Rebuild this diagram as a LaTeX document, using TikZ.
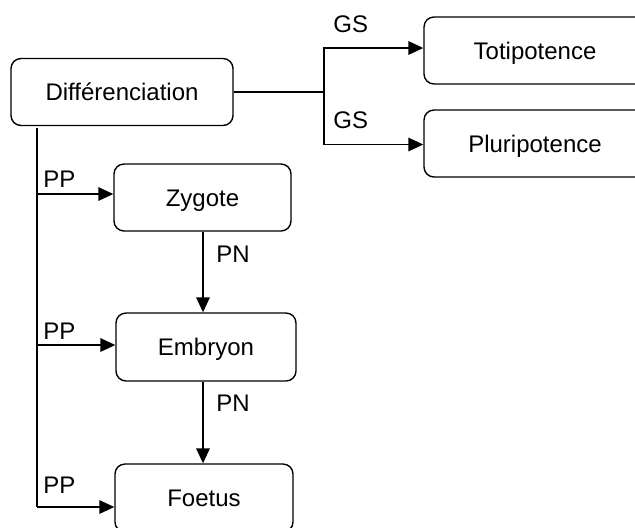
\documentclass[tikz,border=0pt]{standalone}
\usepackage{fontspec}
\setmainfont{Liberation Sans}
\usetikzlibrary{arrows.meta}

\begin{document}
\begin{tikzpicture}[
  x=0.5pt, y=-0.5pt,
  font=\fontsize{12}{14.4}\selectfont,
  stagebox/.style={draw, line width=0.7pt, rounded corners=5pt,
    minimum height=33.5pt, inner sep=0pt, text height=8.6pt, text depth=0pt},
  link/.style={line width=0.7pt},
  arrowlink/.style={link, -{Triangle[length=7.5pt, width=6.8pt]}},
  tag/.style={inner sep=0pt, anchor=base west}
]
  \useasboundingbox (0,0) rectangle (635,527);
  \clip (0,0) rectangle (635,527);

  % stages
  \node[stagebox, minimum width=111pt] (diff)  at (122,92)      {Différenciation};
  \node[stagebox, minimum width=111pt] (toti)  at (535,50.5)    {Totipotence};
  \node[stagebox, minimum width=111pt] (pluri) at (535,143.5)   {Pluripotence};
  \node[stagebox, minimum width=88.5pt] (zyg)  at (202.5,197.5) {Zygote};
  \node[stagebox, minimum width=90pt, minimum height=34pt] (emb) at (206,347) {Embryon};
  \node[stagebox, minimum width=89pt, minimum height=34pt] (foe) at (204,498) {Foetus};

  % branch towards the potency boxes
  \coordinate (j)  at (324,92);
  \coordinate (jt) at (324,48);
  \coordinate (jp) at (324,144.5);
  \draw[link] (diff.east) -- (j);
  \draw[arrowlink] (j) -- (jt) -- (jt -| toti.west);
  \draw[arrowlink] (j) -- (jp) -- (jp -| pluri.west);
  \node[tag] (gs1) at (333,32)  {GS};
  \node[tag] (gs2) at (333,128) {GS};

  % trunk feeding the developmental stages
  \coordinate (t0) at (37,127.5);
  \coordinate (pz) at (37,194);
  \coordinate (pe) at (37,345);
  \coordinate (pf) at (37,507);
  \draw[link] (t0) -- (pf);
  \draw[arrowlink] (pz) -- (pz -| zyg.west);
  \draw[arrowlink] (pe) -- (pe -| emb.west);
  \draw[arrowlink] (pf) -- (pf -| foe.west);
  \node[tag] (pp1) at (43,187) {PP};
  \node[tag] (pp2) at (43,339) {PP};
  \node[tag] (pp3) at (43,493) {PP};

  % successive stages
  \draw[arrowlink] ([xshift=0.25pt]zyg.south) -- ([xshift=0.25pt]zyg.south |- emb.north);
  \draw[arrowlink] ([xshift=-1.5pt]emb.south) -- ([xshift=-1.5pt]emb.south |- foe.north);
  \node[tag] (pn1) at (216,262) {PN};
  \node[tag] (pn2) at (216,411) {PN};
\end{tikzpicture}
\end{document}
